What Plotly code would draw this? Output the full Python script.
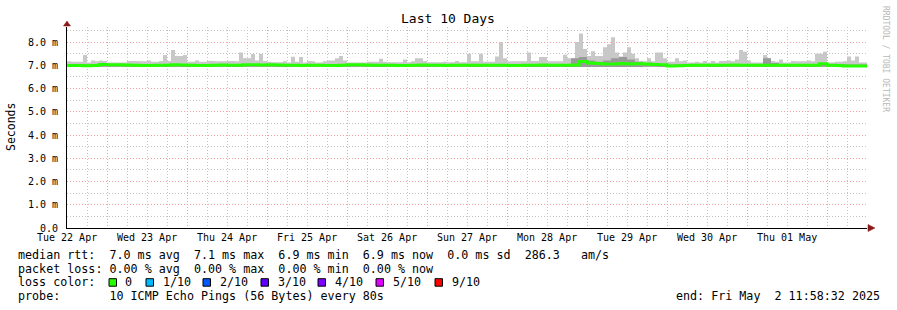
import pandas as pd
import plotly.graph_objects as go

# ---------------- data (milliseconds) ----------------
START = "2025-04-22 11:58:32"
END = "2025-05-02 11:58:32"

# upper edge of the smoke (slowest ping), one value per 72 minutes
smoke_max = [
    7.17, 7.15, 7.15, 7.15, 7.44, 7.12, 7.2, 7.17, 7.2, 7.18,
    7.12, 7.12, 7.12, 7.12, 7.12, 7.18, 7.18, 7.18, 7.17, 7.17,
    7.2, 7.15, 7.15, 7.18, 7.44, 7.18, 7.66, 7.4, 7.4, 7.44,
    7.15, 7.15, 7.2, 7.15, 7.15, 7.18, 7.18, 7.17, 7.17, 7.17,
    7.18, 7.18, 7.17, 7.55, 7.3, 7.3, 7.48, 7.2, 7.48, 7.18,
    7.15, 7.13, 7.13, 7.13, 7.17, 7.12, 7.37, 7.15, 7.35, 7.12,
    7.18, 7.17, 7.12, 7.12, 7.17, 7.2, 7.2, 7.3, 7.4, 7.2,
    7.12, 7.12, 7.12, 7.12, 7.12, 7.15, 7.15, 7.15, 7.28, 7.15,
    7.13, 7.13, 7.13, 7.13, 7.25, 7.13, 7.17, 7.3, 7.3, 7.18,
    7.13, 7.13, 7.13, 7.13, 7.15, 7.13, 7.13, 7.18, 7.13, 7.13,
    7.5, 7.17, 7.17, 7.5, 7.15, 7.15, 7.15, 7.38, 8.0, 7.3,
    7.17, 7.17, 7.17, 7.17, 7.17, 7.55, 7.18, 7.18, 7.35, 7.35,
    7.17, 7.17, 7.17, 7.17, 7.45, 7.3, 7.3, 8.0, 8.37, 7.7,
    7.4, 7.6, 7.4, 7.4, 7.77, 7.9, 8.2, 7.55, 7.38, 7.55,
    7.77, 7.5, 7.3, 7.17, 7.17, 7.3, 7.17, 7.55, 7.55, 7.3,
    7.15, 7.15, 7.3, 7.17, 7.2, 7.12, 7.12, 7.15, 7.12, 7.18,
    7.12, 7.18, 7.12, 7.18, 7.18, 7.2, 7.17, 7.25, 7.66, 7.58,
    7.2, 7.12, 7.12, 7.12, 7.44, 7.3, 7.18, 7.15, 7.25, 7.12,
    7.12, 7.18, 7.17, 7.17, 7.17, 7.2, 7.17, 7.5, 7.5, 7.58,
    7.12, 7.12, 7.15, 7.15, 7.17, 7.38, 7.2, 7.38, 7.12, 7.12,
]
SMOKE_MAX_STEP_MIN = 72

# lower edge of the smoke (fastest ping), one value per 288 minutes
smoke_min = [
    6.94, 6.93, 6.94, 6.94, 6.93, 6.94, 6.94, 6.93, 6.94, 6.94,
    6.93, 6.94, 6.94, 6.93, 6.94, 6.94, 6.93, 6.94, 6.94, 6.93,
    6.94, 6.94, 6.93, 6.94, 6.94, 6.93, 6.94, 6.94, 6.93, 6.93,
    6.93, 6.92, 6.92, 6.92, 6.92, 6.92, 6.94, 6.93, 6.94, 6.94,
    6.93, 6.94, 6.94, 6.93, 6.94, 6.94, 6.93, 6.94, 6.95, 6.95,
]
SMOKE_MIN_STEP_MIN = 288

# upper edge of the darker inner smoke, one value per 144 minutes
smoke_inner = [
    7.03, 7.03, 7.03, 7.03, 7.05, 7.04, 7.04, 7.03, 7.03, 7.03,
    7.03, 7.03, 7.03, 7.04, 7.04, 7.03, 7.03, 7.03, 7.03, 7.04,
    7.03, 7.03, 7.05, 7.05, 7.04, 7.04, 7.03, 7.03, 7.03, 7.03,
    7.03, 7.03, 7.03, 7.03, 7.03, 7.04, 7.04, 7.03, 7.03, 7.03,
    7.03, 7.03, 7.03, 7.03, 7.03, 7.03, 7.03, 7.03, 7.03, 7.03,
    7.03, 7.03, 7.03, 7.03, 7.03, 7.03, 7.03, 7.03, 7.03, 7.04,
    7.03, 7.03, 7.04, 7.3, 7.35, 7.2, 7.15, 7.2, 7.3, 7.35,
    7.25, 7.15, 7.06, 7.05, 7.04, 7.03, 7.03, 7.03, 7.03, 7.03,
    7.03, 7.03, 7.03, 7.03, 7.03, 7.03, 7.03, 7.3, 7.1, 7.03,
    7.03, 7.03, 7.03, 7.03, 7.08, 7.03, 7.03, 7.03, 7.03, 7.03,
]
SMOKE_INNER_STEP_MIN = 144

# median round-trip time, one value per 144 minutes
median_rtt = [
    6.99, 6.99, 6.98, 6.99, 7.03, 7.02, 7.02, 7.01, 7.0, 6.99,
    6.99, 7.0, 7.0, 7.02, 7.01, 7.0, 6.99, 6.99, 7.0, 7.01,
    7.0, 7.0, 7.02, 7.02, 7.01, 7.02, 7.01, 7.0, 7.0, 6.99,
    7.0, 7.0, 6.99, 6.99, 7.0, 7.02, 7.02, 7.01, 7.0, 7.0,
    7.0, 6.99, 6.99, 7.0, 7.01, 7.0, 7.0, 6.99, 7.0, 7.0,
    7.0, 7.0, 7.0, 7.0, 7.0, 6.99, 6.99, 7.0, 7.0, 7.01,
    7.0, 7.0, 7.0, 7.01, 7.16, 7.1, 7.07, 7.05, 7.05, 7.08,
    7.05, 7.06, 7.05, 7.03, 7.02, 6.97, 6.98, 6.99, 7.0, 7.0,
    7.0, 7.0, 7.0, 7.01, 7.0, 7.0, 7.0, 7.0, 7.0, 7.0,
    7.0, 7.0, 7.0, 7.0, 7.06, 7.0, 6.99, 6.97, 6.97, 6.97,
]
MEDIAN_STEP_MIN = 144

y_ticks = [0, 1, 2, 3, 4, 5, 6, 7, 8]
y_tick_labels = ["0.0", "1.0 m", "2.0 m", "3.0 m", "4.0 m", "5.0 m",
                 "6.0 m", "7.0 m", "8.0 m"]
y_minor_ticks = [0.5, 1.5, 2.5, 3.5, 4.5, 5.5, 6.5, 7.5, 8.5]
day_label_times = pd.date_range("2025-04-22 12:00", "2025-05-01 12:00", freq="D")
day_labels = ["Tue 22 Apr", "Wed 23 Apr", "Thu 24 Apr", "Fri 25 Apr", "Sat 26 Apr",
              "Sun 27 Apr", "Mon 28 Apr", "Tue 29 Apr", "Wed 30 Apr", "Thu 01 May"]
midnights = pd.date_range("2025-04-23 00:00", "2025-05-02 00:00", freq="D")
quarter_days = [t for t in pd.date_range("2025-04-22 12:00", "2025-05-02 12:00", freq="6h")
                if t.hour != 0]

loss_colors = ["#26ff00", "#00b8ff", "#0059ff", "#5e00ff", "#7e00ff", "#dd00ff", "#ff0000"]
loss_labels = ["0", "1/10", "2/10", "3/10", "4/10", "5/10", "9/10"]

stats_lines = [
    "median rtt:  7.0 ms avg  7.1 ms max  6.9 ms min  6.9 ms now  0.0 ms sd  286.3   am/s",
    "packet loss: 0.00 % avg  0.00 % max  0.00 % min  0.00 % now",
    "loss color:",
    "probe:       10 ICMP Echo Pings (56 Bytes) every 80s",
]
end_text = "end: Fri May  2 11:58:32 2025"

# ---------------- helpers ----------------
MONO = "DejaVu Sans Mono"
W, H = 897, 310
L, R, T, B = 67, 30, 27, 82
PW, PH = W - L - R, H - T - B


def px2x(px):
    return (px - L) / PW


def py2y(py):
    return (H - B - py) / PH


def steps(values, minutes):
    x = pd.date_range(START, periods=len(values) + 1, freq=f"{minutes}min")
    return x, list(values) + [values[-1]]


def nb(s):
    return s.replace(" ", "\u00a0")


fig = go.Figure()

xs, ys = steps(smoke_min, SMOKE_MIN_STEP_MIN)
fig.add_trace(go.Scatter(x=xs, y=ys, mode="lines", line=dict(width=0, shape="hv"),
                         hoverinfo="skip"))
xs, ys = steps(smoke_max, SMOKE_MAX_STEP_MIN)
fig.add_trace(go.Scatter(x=xs, y=ys, mode="lines", line=dict(width=0, shape="hv"),
                         fill="tonexty", fillcolor="#c8c8c8", hoverinfo="skip"))
xs, ys = steps(smoke_min, SMOKE_MIN_STEP_MIN)
fig.add_trace(go.Scatter(x=xs, y=ys, mode="lines", line=dict(width=0, shape="hv"),
                         hoverinfo="skip"))
xs, ys = steps(smoke_inner, SMOKE_INNER_STEP_MIN)
fig.add_trace(go.Scatter(x=xs, y=ys, mode="lines", line=dict(width=0, shape="hv"),
                         fill="tonexty", fillcolor="#9a9a9a", hoverinfo="skip"))
xs, ys = steps(median_rtt, MEDIAN_STEP_MIN)
fig.add_trace(go.Scatter(x=xs, y=ys, mode="lines", xaxis="x2",
                         line=dict(width=3, color=loss_colors[0], shape="hv")))

RED_GRID = "#f4a0a0"
GRAY_GRID = "#c4c4c4"
DASH = "1px,2px"

fig.update_layout(
    width=W, height=H,
    margin=dict(l=L, r=R, t=T, b=B, pad=0),
    paper_bgcolor="white", plot_bgcolor="white",
    showlegend=False,
    xaxis=dict(
        type="date", range=[START, END],
        tickmode="array", tickvals=list(midnights),
        showticklabels=False, ticks="",
        showgrid=True, gridcolor=RED_GRID, griddash=DASH, gridwidth=1,
        minor=dict(tickmode="array", tickvals=quarter_days, showgrid=True,
                   gridcolor=GRAY_GRID, griddash=DASH, gridwidth=1),
        showline=True, linecolor="black", linewidth=1, zeroline=False,
    ),
    xaxis2=dict(
        type="date", range=[START, END], overlaying="x", anchor="y", side="bottom",
        tickmode="array", tickvals=list(day_label_times), ticktext=day_labels,
        showgrid=False, ticks="", ticklabelstandoff=2,
        tickfont=dict(family=MONO, size=10, color="black"),
    ),
    yaxis=dict(
        range=[0, PH / 23.25],
        tickmode="array", tickvals=y_ticks, ticktext=y_tick_labels,
        showgrid=True, gridcolor=RED_GRID, griddash=DASH, gridwidth=1,
        minor=dict(tickmode="array", tickvals=y_minor_ticks, showgrid=True,
                   gridcolor=GRAY_GRID, griddash=DASH, gridwidth=1),
        showline=True, linecolor="black", linewidth=1, zeroline=False, ticks="",
        ticklabelstandoff=6,
        tickfont=dict(family=MONO, size=10, color="black"),
    ),
)

ann = []
ann.append(dict(text="Last 10 Days", x=px2x(448), y=py2y(19), xref="paper", yref="paper",
                xanchor="center", yanchor="middle", showarrow=False,
                font=dict(family=MONO, size=13, color="black")))
ann.append(dict(text="Seconds", x=px2x(11), y=py2y(127), xref="paper", yref="paper",
                xanchor="center", yanchor="middle", showarrow=False, textangle=-90,
                font=dict(family=MONO, size=11.5, color="black")))
ann.append(dict(text=nb("RRDTOOL / TOBI OETIKER"), x=px2x(886), y=py2y(59),
                xref="paper", yref="paper", xanchor="center", yanchor="middle",
                showarrow=False, textangle=90,
                font=dict(family=MONO, size=8, color="#b8b8b8")))
line_y = [254.8, 268.5, 282.2, 296.0]
for txt, yy in zip(stats_lines, line_y):
    ann.append(dict(text=nb(txt), x=px2x(16), y=py2y(yy), xref="paper", yref="paper",
                    xanchor="left", yanchor="middle", showarrow=False,
                    font=dict(family=MONO, size=11.7, color="black")))
ann.append(dict(text=nb(end_text), x=px2x(881.5), y=py2y(line_y[3]), xref="paper",
                yref="paper", xanchor="right", yanchor="middle", showarrow=False,
                font=dict(family=MONO, size=11.7, color="black")))

box_left = [109, 146, 203, 261, 318, 376, 435]
label_left = [123, 160.7, 218, 276, 333, 390.7, 450]
shapes = []
for c, lab, bx, lx in zip(loss_colors, loss_labels, box_left, label_left):
    shapes.append(dict(type="rect", xref="paper", yref="paper",
                       x0=px2x(bx), x1=px2x(bx + 7.5),
                       y0=py2y(286.2), y1=py2y(278.7),
                       fillcolor=c, line=dict(color="black", width=1)))
    ann.append(dict(text=nb(lab), x=px2x(lx), y=py2y(line_y[2]), xref="paper",
                    yref="paper", xanchor="left", yanchor="middle", showarrow=False,
                    font=dict(family=MONO, size=11.7, color="black")))

ARROW = "#8b1a1a"
shapes.append(dict(type="path", xref="paper", yref="paper", xsizemode="pixel",
                   ysizemode="pixel", xanchor=1, yanchor=0,
                   path="M 1,-3.5 L 8,0 L 1,3.5 Z", fillcolor=ARROW,
                   line=dict(color=ARROW, width=0.5)))
shapes.append(dict(type="path", xref="paper", yref="paper", xsizemode="pixel",
                   ysizemode="pixel", xanchor=0, yanchor=1,
                   path="M -3.5,1 L 3.5,1 L 0,6 Z", fillcolor=ARROW,
                   line=dict(color=ARROW, width=0.5)))

fig.update_layout(annotations=ann, shapes=shapes)
fig.write_html("out.html")
